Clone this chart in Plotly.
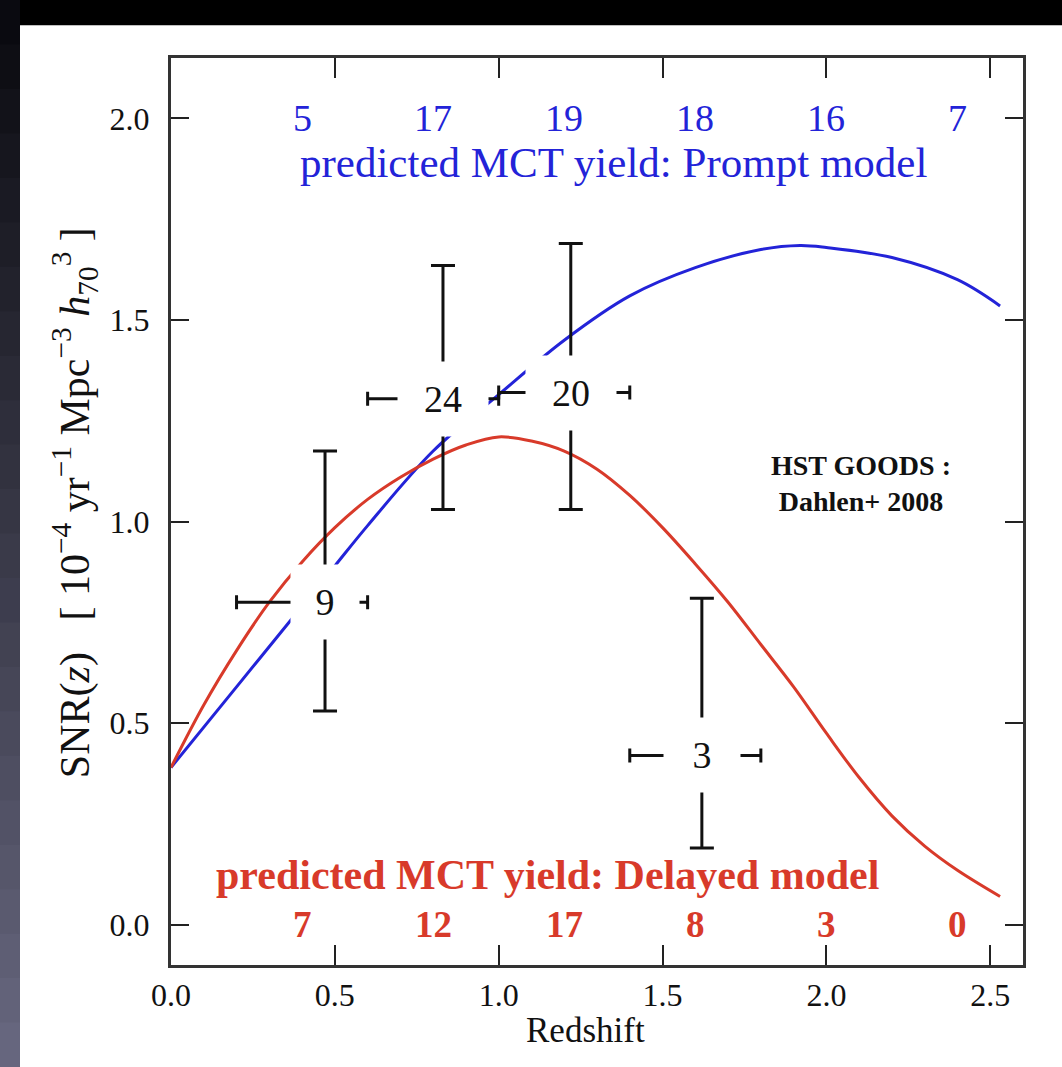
import plotly.graph_objects as go

# Model curves: SN rate vs redshift
model_z_prompt = [0.0, 0.2, 0.4, 0.5, 0.6, 0.8, 1.0, 1.2, 1.4, 1.6, 1.8, 1.92, 2.0, 2.2, 2.4, 2.53]
snr_prompt = [0.39, 0.59, 0.79, 0.89, 0.99, 1.175, 1.315, 1.45, 1.56, 1.63, 1.675, 1.685, 1.68, 1.655, 1.60, 1.535]

model_z_delayed = [0.0, 0.1, 0.2, 0.3, 0.4, 0.5, 0.6, 0.7, 0.8, 0.9, 1.0, 1.1, 1.2, 1.3, 1.4, 1.5,
                   1.6, 1.7, 1.8, 1.9, 2.0, 2.1, 2.2, 2.3, 2.4, 2.53]
snr_delayed = [0.39, 0.545, 0.68, 0.80, 0.90, 0.985, 1.055, 1.11, 1.155, 1.19, 1.21, 1.20, 1.175, 1.13, 1.065, 0.985,
               0.895, 0.80, 0.695, 0.59, 0.475, 0.365, 0.27, 0.195, 0.135, 0.07]

# HST GOODS measurements (Dahlen+ 2008)
obs_z = [0.47, 0.83, 1.22, 1.62]
obs_bin_lo = [0.2, 0.6, 1.0, 1.4]
obs_bin_hi = [0.6, 1.0, 1.4, 1.8]
obs_snr = [0.80, 1.305, 1.32, 0.42]
obs_err_hi = [0.375, 0.33, 0.37, 0.39]
obs_err_lo = [0.27, 0.275, 0.29, 0.23]
obs_count = ["9", "24", "20", "3"]

# Predicted yields per redshift bin
yield_z = [0.4, 0.8, 1.2, 1.6, 2.0, 2.4]
yield_prompt = ["5", "17", "19", "18", "16", "7"]
yield_delayed = ["7", "12", "17", "8", "3", "0"]

BLUE = "#2323d8"
RED = "#d83a2a"
FONT = "Liberation Serif"

fig = go.Figure()

fig.add_trace(go.Scatter(x=model_z_prompt, y=snr_prompt, mode="lines",
                         line=dict(color=BLUE, width=3, shape="spline"), showlegend=False))
fig.add_trace(go.Scatter(x=model_z_delayed, y=snr_delayed, mode="lines",
                         line=dict(color=RED, width=3, shape="spline"), showlegend=False))

fig.add_trace(go.Scatter(
    x=obs_z, y=obs_snr, mode="markers", marker=dict(size=1, color="rgba(0,0,0,0)"),
    error_y=dict(type="data", array=obs_err_hi, arrayminus=obs_err_lo, color="#111",
                 thickness=3, width=12),
    error_x=dict(type="data", array=[h - z for h, z in zip(obs_bin_hi, obs_z)],
                 arrayminus=[z - l for z, l in zip(obs_z, obs_bin_lo)], color="#111",
                 thickness=3, width=7),
    showlegend=False))

annotations = []
# count labels, masking the centre of each error cross
mask_w = [68, 90, 90, 76]
for z, s, t, w in zip(obs_z, obs_snr, obs_count, mask_w):
    annotations.append(dict(x=z, y=s, text=t, showarrow=False, bgcolor="white",
                            width=w, height=74, borderpad=0,
                            font=dict(family=FONT, size=38, color="#111")))
for z, t in zip(yield_z, yield_prompt):
    annotations.append(dict(x=z, y=2.0, text=t, showarrow=False,
                            font=dict(family=FONT, size=38, color=BLUE)))
for z, t in zip(yield_z, yield_delayed):
    annotations.append(dict(x=z, y=0.0, text="<b>" + t + "</b>", showarrow=False,
                            font=dict(family=FONT, size=37, color=RED)))
annotations.append(dict(x=1.35, y=1.89, text="predicted MCT yield: Prompt model", showarrow=False,
                        font=dict(family=FONT, size=43, color=BLUE)))
annotations.append(dict(x=1.15, y=0.124, text="<b>predicted MCT yield: Delayed model</b>", showarrow=False,
                        font=dict(family=FONT, size=42, color=RED)))
annotations.append(dict(x=2.107, y=1.094, text="<b>HST GOODS :</b><br><b>Dahlen+ 2008</b>",
                        showarrow=False, align="center",
                        font=dict(family=FONT, size=28, color="#111")))
annotations.append(dict(x=-0.113, y=0.51, xref="paper", yref="paper", textangle=-90, showarrow=False,
                        xanchor="center", yanchor="middle",
                        text="SNR(<i>z</i>)   [ 10<sup>\u22124</sup> yr<sup>\u22121</sup> Mpc<sup>\u22123</sup> "
                             "<i>h</i><sub>70</sub><sup>3</sup> ]",
                        font=dict(family=FONT, size=42, color="#111")))
annotations.append(dict(x=(585 - 171) / 852, y=-0.0717, xref="paper", yref="paper", showarrow=False,
                        xanchor="center", yanchor="middle", text="Redshift",
                        font=dict(family=FONT, size=35, color="#111")))

# dark backdrop bands around the white page
shapes = [dict(type="rect", xref="paper", yref="paper", x0=-0.25, x1=1.1, y0=1.036, y1=1.1,
               fillcolor="#000", line=dict(width=0), layer="below")]
n = 24
top_px, bot_px = 0, 1067
for i in range(n):
    f = i / (n - 1)
    r = int(10 + f * 92)
    g = int(10 + f * 92)
    b = int(16 + f * 110)
    p0 = top_px + (bot_px - top_px) * i / n
    p1 = top_px + (bot_px - top_px) * (i + 1) / n + 1
    shapes.append(dict(type="rect", xref="paper", yref="paper",
                       x0=-0.25, x1=(20 - 171) / 852,
                       y0=(965 - p1) / 907, y1=(965 - p0) / 907,
                       fillcolor=f"rgb({r},{g},{b})", line=dict(width=0), layer="below"))

fig.update_layout(
    width=1062, height=1067,
    margin=dict(l=171, r=39, t=58, b=102),
    paper_bgcolor="white", plot_bgcolor="white",
    font=dict(family=FONT, size=30, color="#111"),
    annotations=annotations, shapes=shapes,
    xaxis=dict(range=[0, 2.6], tickvals=[0, 0.5, 1.0, 1.5, 2.0, 2.5],
               ticktext=["0.0", "0.5", "1.0", "1.5", "2.0", "2.5"],
               ticks="inside", ticklen=20, tickwidth=2, tickcolor="#222",
               showline=True, linecolor="#333", linewidth=3, mirror="ticks",
               showgrid=False, zeroline=False,
               tickfont=dict(family=FONT, size=32, color="#111")),
    yaxis=dict(range=[-0.1, 2.15], tickvals=[0, 0.5, 1.0, 1.5, 2.0],
               ticktext=["0.0", "0.5", "1.0", "1.5", "2.0"],
               ticks="inside", ticklen=18, tickwidth=2, tickcolor="#222",
               showline=True, linecolor="#333", linewidth=3, mirror="ticks",
               showgrid=False, zeroline=False, ticklabelstandoff=12,
               tickfont=dict(family=FONT, size=32, color="#111")),
)

fig.write_html("out.html")
